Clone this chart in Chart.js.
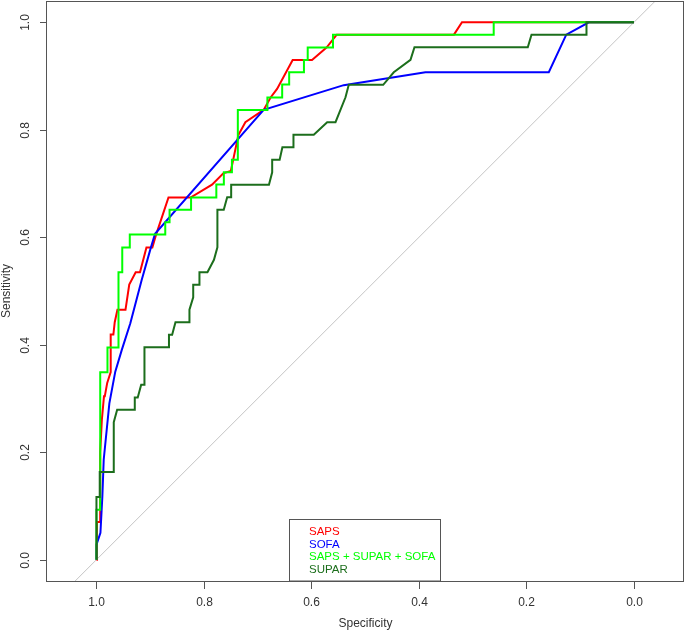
<!DOCTYPE html>
<html>
<head>
<meta charset="utf-8">
<title>ROC curves</title>
<script src="https://cdn.jsdelivr.net/npm/chart.js@4.4.1/dist/chart.umd.min.js"></script>
<style>
  html, body { margin: 0; padding: 0; background: #fff; }
  #roc { display: block; }
</style>
</head>
<body>
<canvas id="roc" width="685" height="631"></canvas>
<script>
// tick labels
const xTicks = [1.0, 0.8, 0.6, 0.4, 0.2, 0.0];
const yTicks = [0.0, 0.2, 0.4, 0.6, 0.8, 1.0];

// legend labels, in legend order
const seriesLabels = ['SAPS', 'SOFA', 'SAPS + SUPAR + SOFA', 'SUPAR'];
const seriesColors = ['#ff0000', '#0000ff', '#00ff00', '#1c6e1c'];

// SAPS
const sapsSpec = [1, 0.999, 0.993, 0.993, 0.990, 0.986, 0.9845, 0.980, 0.9735, 0.9735, 0.9685, 0.966, 0.961, 0.946, 0.939, 0.927, 0.919, 0.907, 0.896, 0.889, 0.866, 0.825, 0.785, 0.764, 0.750, 0.736, 0.723, 0.689, 0.676, 0.664, 0.635, 0.599, 0.572, 0.553, 0.335, 0.320, 0];
const sapsSens = [0, 0.070, 0.070, 0.200, 0.260, 0.304, 0.304, 0.329, 0.349, 0.419, 0.419, 0.442, 0.465, 0.465, 0.512, 0.535, 0.535, 0.581, 0.581, 0.605, 0.674, 0.674, 0.698, 0.719, 0.7235, 0.790, 0.814, 0.837, 0.860, 0.876, 0.930, 0.930, 0.953, 0.977, 0.977, 1, 1];

// SOFA
const sofaSpec = [1, 1, 0.9926, 0.989, 0.9865, 0.976, 0.965, 0.953, 0.937, 0.916, 0.900, 0.891, 0.689, 0.540, 0.388, 0.1585, 0.126, 0.084, 0];
const sofaSens = [0, 0.028, 0.050, 0.118, 0.186, 0.291, 0.350, 0.390, 0.440, 0.520, 0.5765, 0.6065, 0.837, 0.883, 0.907, 0.907, 0.977, 1, 1];

// SAPS + SUPAR + SOFA
const comboSpec = [1, 1, 0.993, 0.993, 0.9795, 0.9795, 0.959, 0.959, 0.952, 0.952, 0.938, 0.938, 0.872, 0.872, 0.864, 0.864, 0.824, 0.824, 0.777, 0.777, 0.763, 0.763, 0.748, 0.748, 0.737, 0.737, 0.682, 0.682, 0.6545, 0.6545, 0.6415, 0.6415, 0.614, 0.614, 0.607, 0.607, 0.560, 0.560, 0.261, 0.261, 0];
const comboSens = [0, 0.093, 0.093, 0.349, 0.349, 0.395, 0.395, 0.535, 0.535, 0.581, 0.581, 0.605, 0.605, 0.628, 0.628, 0.651, 0.651, 0.674, 0.674, 0.698, 0.698, 0.721, 0.721, 0.744, 0.744, 0.837, 0.837, 0.860, 0.860, 0.884, 0.884, 0.907, 0.907, 0.930, 0.930, 0.953, 0.953, 0.977, 0.977, 1, 1];

// SUPAR
const suparSpec = [1, 1, 0.9939, 0.9939, 0.9678, 0.9678, 0.9615, 0.9287, 0.9287, 0.9232, 0.9168, 0.9107, 0.9107, 0.8651, 0.8651, 0.8592, 0.853, 0.827, 0.827, 0.820, 0.820, 0.8084, 0.8084, 0.7935, 0.7814, 0.775, 0.775, 0.7632, 0.7568, 0.7494, 0.7494, 0.6791, 0.6731, 0.6731, 0.6592, 0.6541, 0.6335, 0.6335, 0.5957, 0.5708, 0.5553, 0.5367, 0.5306, 0.4666, 0.4469, 0.4158, 0.4084, 0.1976, 0.1907, 0.0884, 0.0884, 0];
const suparSens = [0, 0.1166, 0.1166, 0.163, 0.163, 0.256, 0.279, 0.279, 0.302, 0.302, 0.3256, 0.3256, 0.3953, 0.3953, 0.4186, 0.4186, 0.4419, 0.4419, 0.4651, 0.4884, 0.5116, 0.5116, 0.5349, 0.5349, 0.5581, 0.5814, 0.6512, 0.6512, 0.6744, 0.6744, 0.6977, 0.6977, 0.7209, 0.7442, 0.7442, 0.7674, 0.7674, 0.7907, 0.7907, 0.814, 0.814, 0.8605, 0.8837, 0.8837, 0.907, 0.9302, 0.9535, 0.9535, 0.9767, 0.9767, 1, 1];

// chance line (specificity + sensitivity = 1)
const chanceSpec = [1.2, -0.2];
const chanceSens = [-0.2, 1.2];

function toPoints(xs, ys) {
  return xs.map((x, i) => ({ x: x, y: ys[i] }));
}

const specs = [sapsSpec, sofaSpec, comboSpec, suparSpec];
const senss = [sapsSens, sofaSens, comboSens, suparSens];

const datasets = seriesLabels.map((label, i) => ({
  label: label,
  data: toPoints(specs[i], senss[i]),
  borderColor: seriesColors[i],
  borderWidth: 2,
  order: seriesLabels.length - i
}));
datasets.push({
  label: 'chance',
  data: toPoints(chanceSpec, chanceSens),
  borderColor: '#c4c4c4',
  borderWidth: 1,
  order: 10
});

const font = '"Liberation Sans", Arial, sans-serif';
const textColor = '#333';

// R style box, axes and legend
const rStyle = {
  id: 'rStyle',
  afterDraw(chart) {
    const ctx = chart.ctx;
    const a = chart.chartArea;
    const xs = chart.scales.x, ys = chart.scales.y;
    ctx.save();
    ctx.strokeStyle = '#555';
    ctx.lineWidth = 1;
    ctx.strokeRect(a.left - 0.5, a.top + 0.5, a.right - a.left, a.bottom - a.top);

    ctx.fillStyle = textColor;
    ctx.font = '12px ' + font;
    // x axis
    ctx.textAlign = 'center';
    ctx.textBaseline = 'middle';
    xTicks.forEach(v => {
      const px = Math.round(xs.getPixelForValue(v)) + 0.5;
      ctx.beginPath();
      ctx.moveTo(px, a.bottom);
      ctx.lineTo(px, a.bottom + 8);
      ctx.stroke();
      ctx.fillText(v.toFixed(1), px, a.bottom + 22);
    });
    ctx.fillText('Specificity', (a.left + a.right) / 2, 624);
    // y axis
    yTicks.forEach(v => {
      const py = Math.round(ys.getPixelForValue(v)) + 0.5;
      ctx.beginPath();
      ctx.moveTo(a.left - 7, py);
      ctx.lineTo(a.left, py);
      ctx.stroke();
      ctx.save();
      ctx.translate(26, py);
      ctx.rotate(-Math.PI / 2);
      ctx.fillText(v.toFixed(1), 0, 0);
      ctx.restore();
    });
    ctx.save();
    ctx.translate(7, (a.top + a.bottom) / 2);
    ctx.rotate(-Math.PI / 2);
    ctx.fillText('Sensitivity', 0, 0);
    ctx.restore();

    // legend
    const bx = 289.5, by = 519.5, bw = 151, bh = a.bottom - 519.5;
    ctx.fillStyle = '#fff';
    ctx.fillRect(bx, by, bw, bh);
    ctx.strokeRect(bx, by, bw, bh);
    ctx.font = '11.5px ' + font;
    ctx.textAlign = 'left';
    seriesLabels.forEach((label, i) => {
      ctx.fillStyle = seriesColors[i];
      ctx.fillText(label, 309, 532 + i * 12.5);
    });
    ctx.restore();
  }
};

new Chart(document.getElementById('roc'), {
  type: 'scatter',
  data: { datasets: datasets },
  options: {
    responsive: false,
    animation: false,
    showLine: true,
    elements: {
      point: { radius: 0, hoverRadius: 0 },
      line: { tension: 0, fill: false }
    },
    layout: { padding: { left: 47, right: 1, top: 1, bottom: 50 } },
    scales: {
      x: { type: 'linear', reverse: true, min: -0.093, max: 1.092, display: false },
      y: { type: 'linear', min: -0.0396, max: 1.0396, display: false }
    },
    plugins: {
      legend: { display: false },
      tooltip: { enabled: false }
    }
  },
  plugins: [rStyle]
});
</script>
</body>
</html>
